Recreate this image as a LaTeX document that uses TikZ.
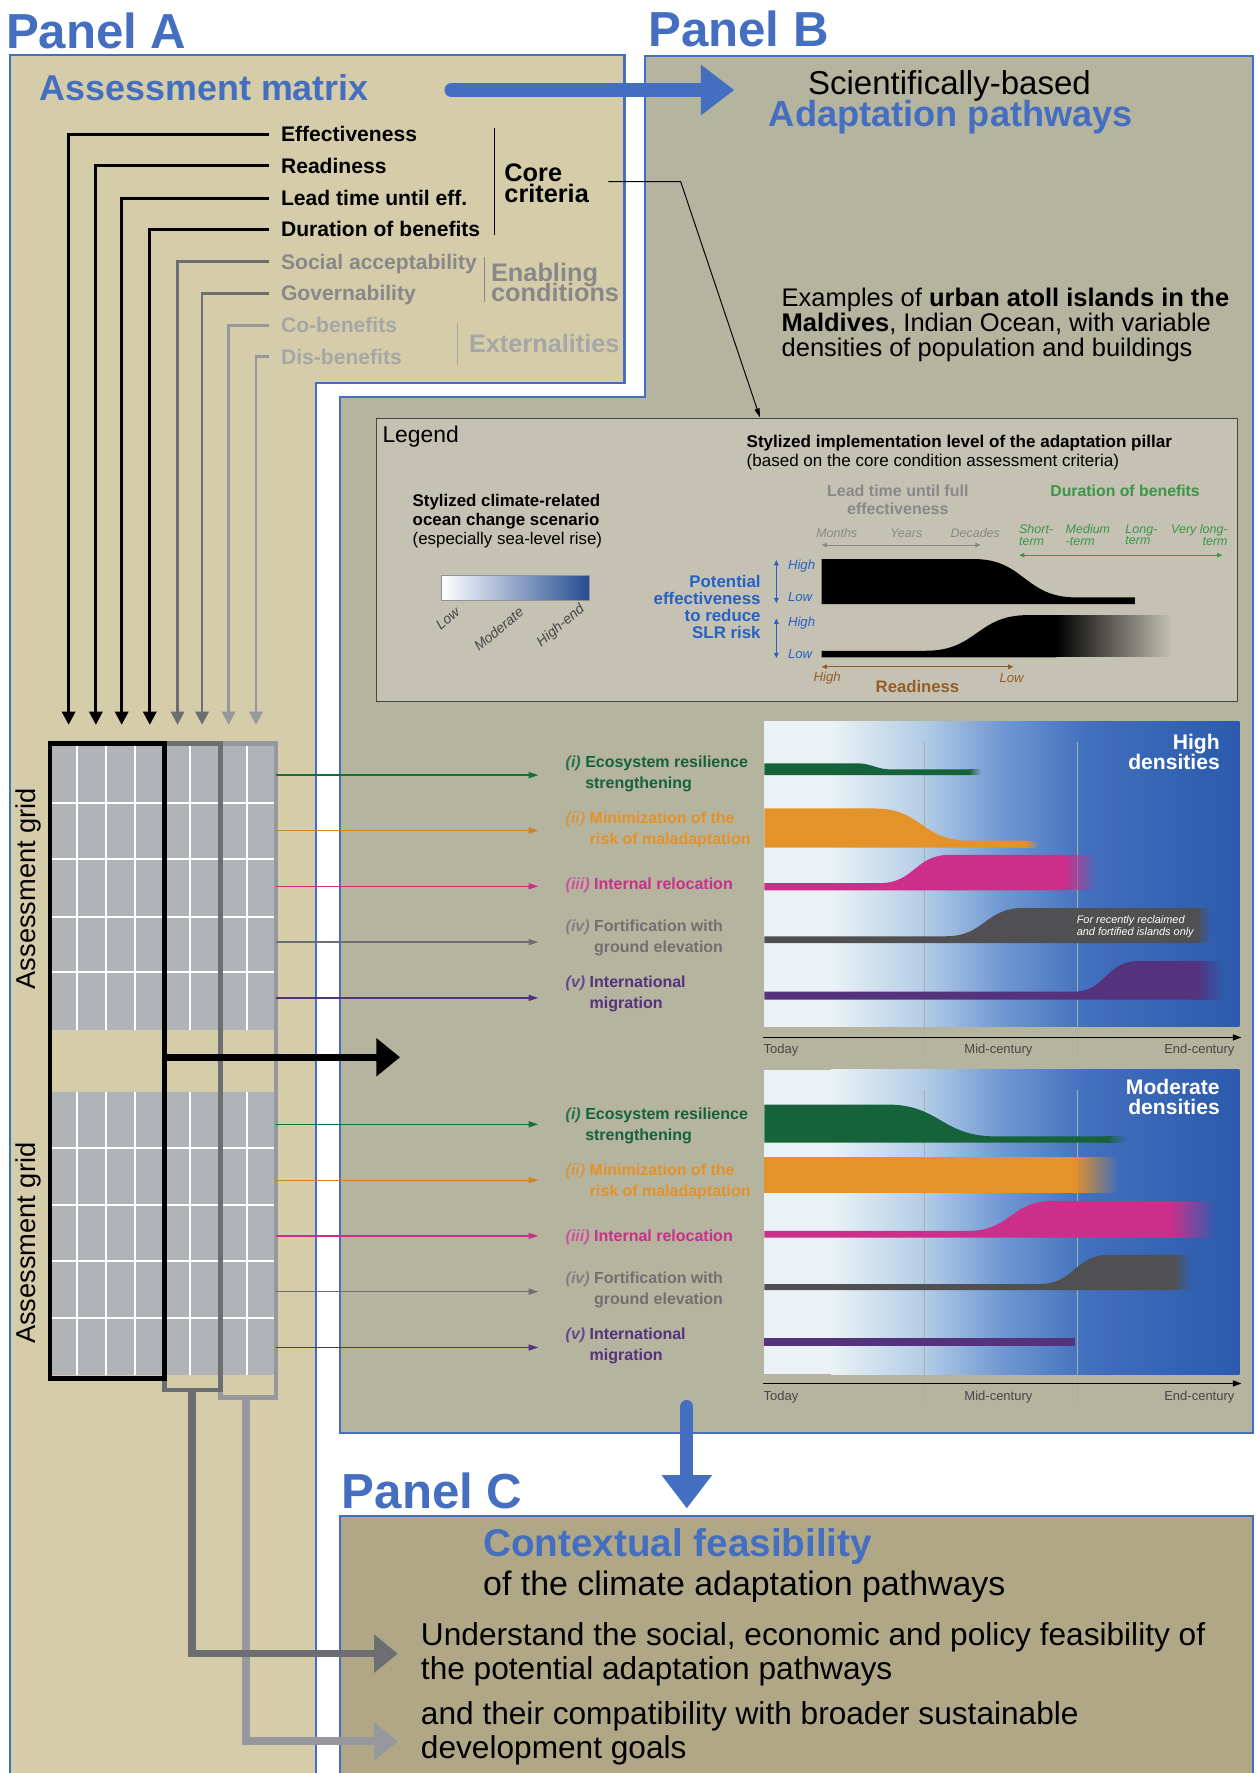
\documentclass[tikz,border=0pt]{standalone}
\usepackage{fontspec}
\setmainfont{Liberation Sans}
\usetikzlibrary{arrows.meta,fadings}
\setlength{\lineskiplimit}{-50pt}
\newcommand\fsz[2]{\fontsize{#1}{#2}\selectfont}
\tikzfading[name=fadetail,left color=transparent!0,right color=transparent!100]

\definecolor{panelblue}{RGB}{68,110,192}
\definecolor{beigeA}{RGB}{213,204,169}
\definecolor{greyB}{RGB}{181,180,159}
\definecolor{khakiC}{RGB}{176,167,135}
\definecolor{legendbg}{RGB}{197,194,180}
\definecolor{cellgrey}{RGB}{176,179,183}
\definecolor{midgrey}{RGB}{108,110,114}
\definecolor{lightgrey}{RGB}{150,152,158}
\definecolor{enabgrey}{RGB}{136,136,136}
\definecolor{extgrey}{RGB}{166,166,166}
\definecolor{ecogreen}{RGB}{22,98,58}
\definecolor{malorange}{RGB}{228,146,42}
\definecolor{malnum}{RGB}{214,150,70}
\definecolor{relmagenta}{RGB}{204,46,138}
\definecolor{relnum}{RGB}{208,80,155}
\definecolor{fortgrey}{RGB}{80,80,82}
\definecolor{fortgreytxt}{RGB}{112,112,112}
\definecolor{fortnum}{RGB}{128,128,128}
\definecolor{migpurple}{RGB}{84,50,124}
\definecolor{mignum}{RGB}{100,72,140}
\definecolor{econum}{RGB}{40,112,72}
\definecolor{leggreen}{RGB}{58,150,72}
\definecolor{legblue}{RGB}{38,98,196}
\definecolor{legbrown}{RGB}{150,92,40}
\definecolor{axisgrey}{RGB}{70,70,70}
\definecolor{sea0}{RGB}{234,242,245}
\definecolor{sea1}{RGB}{178,204,230}
\definecolor{sea2}{RGB}{112,152,210}
\definecolor{sea3}{RGB}{66,112,190}
\definecolor{sea4}{RGB}{44,90,172}

\begin{document}
\begin{tikzpicture}[x=0.02261cm,y=-0.02261cm,
  paneltitle/.style={anchor=base west,inner sep=0pt,text=panelblue,font=\fsz{28pt}{30pt}\bfseries},
  crit/.style={anchor=west,inner xsep=6.4pt,inner ysep=0pt,text height=8.7pt,text depth=0pt,font=\fsz{12pt}{14pt}\bfseries},
  critline/.style={line width=1.6pt,-{Triangle[length=7.5pt,width=7.5pt]}},
  bracket/.style={line width=0.6pt},
  group/.style={anchor=west,inner sep=0pt,align=left,font=\fsz{14.4pt}{11.7pt}\bfseries},
  flow/.style={line width=0.75pt,shorten >=15.4pt,-{Triangle[length=5.5pt,width=3.4pt]}},
  bigflow/.style={line width=4.4pt,-{Triangle[length=13.5pt,width=21pt]}},
  bluearrow/.style={panelblue,line width=7.6pt,line cap=round,-{Triangle[length=19pt,width=27.5pt]}},
  plabel/.style={anchor=west,inner sep=0pt,align=left,font=\fsz{9.1pt}{11.9pt}\bfseries},
  legtxt/.style={inner sep=0pt,font=\fsz{9.6pt}{11pt}},
  smalltxt/.style={inner sep=0pt,font=\fsz{7.1pt}{6.4pt}\itshape},
  scenlbl/.style={inner sep=0pt,rotate=40,text=axisgrey,font=\fsz{8pt}{9pt}\itshape},
  twoway/.style={line width=0.6pt,{Triangle[length=3pt,width=2.6pt]}-{Triangle[length=3pt,width=2.6pt]}},
  axislbl/.style={inner sep=0pt,text=axisgrey,font=\fsz{7.4pt}{9pt}},
  timeaxis/.style={line width=0.9pt,-{Triangle[length=5pt,width=3.4pt]}},
  century/.style={axisgrey!45,line width=0.35pt},
  densit/.style={anchor=east,inner sep=0pt,align=right,text=white,font=\fsz{12pt}{11.4pt}\bfseries},
  bodytxt/.style={anchor=west,inner sep=0pt,align=left,font=\fsz{18pt}{19.6pt}}
]
\useasboundingbox (0,0) rectangle (1110,1568);
\fill[white] (0,0) rectangle (1110,1568);

% panels
\filldraw[fill=beigeA,draw=panelblue,line width=1.3pt] (8.7,48.6) -- (552.4,48.6) -- (552.4,339) -- (279.6,339) -- (279.6,1580) -- (8.7,1580) -- cycle;
\filldraw[fill=greyB,draw=panelblue,line width=1.3pt] (570.5,49.5) -- (1108,49.5) -- (1108,1267) -- (301,1267) -- (301,351) -- (570.5,351) -- cycle;
\filldraw[fill=khakiC,draw=panelblue,line width=1.3pt] (301,1341) -- (1108,1341) -- (1108,1580) -- (301,1580) -- cycle;

\node[paneltitle] (pnA) at (5,42.8) {Panel A};
\node[paneltitle] (pnB) at (573,41.3) {Panel B};
\node[paneltitle] (pnC) at (302,1334) {Panel C};

% Panel A : assessment matrix
\node[anchor=base west,inner sep=0pt,text=panelblue,font=\fsz{20.4pt}{22pt}\bfseries] (mtx) at (35,88.5) {Assessment matrix};

\node[crit] (eff)  at (238.3,118.8) {Effectiveness};
\node[crit] (rdy)  at (238.3,146.5) {Readiness};
\node[crit] (lead) at (238.3,175.4) {Lead time until eff.};
\node[crit] (dur)  at (238.3,202.8) {Duration of benefits};
\node[crit,text=enabgrey] (soc) at (238.3,231.4) {Social acceptability};
\node[crit,text=enabgrey] (gov) at (238.3,259.4) {Governability};
\node[crit,text=extgrey]  (cob) at (238.3,287.5) {Co-benefits};
\node[crit,text=extgrey]  (dis) at (238.3,315.5) {Dis-benefits};

\draw[bracket] (437.6,113.5) -- (437.6,207.9);
\draw[bracket,enabgrey] (428.5,227) -- (428.5,266.8);
\draw[bracket,extgrey] (405,286) -- (405,322.8);
\node[group] (core) at (445.8,162) {Core\\criteria};
\node[group,text=enabgrey] (enab) at (434,249.6) {Enabling\\conditions};
\node[group,text=extgrey] (ext) at (414.5,303.7) {Externalities};

\coordinate (c1) at (60.7,641);
\coordinate (c2) at (84.8,641);
\coordinate (c3) at (107.6,641);
\coordinate (c4) at (132.5,641);
\coordinate (c5) at (157,641);
\coordinate (c6) at (178.7,641);
\coordinate (c7) at (202.2,641);
\coordinate (c8) at (226.4,641);
\draw[critline] (eff.west) -| (c1);
\draw[critline] (rdy.west) -| (c2);
\draw[critline] (lead.west) -| (c3);
\draw[critline] (dur.west) -| (c4);
\draw[critline,midgrey] (soc.west) -| (c5);
\draw[critline,midgrey] (gov.west) -| (c6);
\draw[critline,lightgrey] (cob.west) -| (c7);
\draw[critline,lightgrey] (dis.west) -| (c8);

% assessment grids
\fill[cellgrey] (44,658) rectangle (244,910.6);
\fill[cellgrey] (44,966) rectangle (244,1216);
\draw[white,line width=1.1pt] (68.5,658) -- (68.5,910.6) (93.5,658) -- (93.5,910.6) (119,658) -- (119,910.6)
  (168.4,658) -- (168.4,910.6) (218.6,658) -- (218.6,910.6)
  (44,710) -- (244,710) (44,759.3) -- (244,759.3) (44,810.6) -- (244,810.6) (44,860) -- (244,860);
\draw[white,line width=1.1pt] (68.5,966) -- (68.5,1216) (93.5,966) -- (93.5,1216) (119,966) -- (119,1216)
  (168.4,966) -- (168.4,1216) (218.6,966) -- (218.6,1216)
  (44,1015.2) -- (244,1015.2) (44,1065.4) -- (244,1065.4) (44,1115.5) -- (244,1115.5) (44,1166) -- (244,1166);
\draw[lightgrey,line width=2.6pt] (194.9,657.5) rectangle (243.9,1236);
\draw[midgrey,line width=2.6pt] (145.3,657.5) rectangle (194.9,1229.2);
\draw[black,line width=2.8pt] (44.2,657.5) rectangle (145.3,1219.3);
\node[rotate=90,inner sep=0pt,font=\fsz{15.5pt}{17pt}] (ag1) at (25.3,785.8) {Assessment grid};
\node[rotate=90,inner sep=0pt,font=\fsz{15.5pt}{17pt}] (ag2) at (25.3,1099.5) {Assessment grid};

% Panel B : titles
\coordinate (ba0) at (399,79.6);
\coordinate (ba1) at (649.4,79.6);
\draw[bluearrow] (ba0) -- (ba1);
\node[inner sep=0pt,font=\fsz{18.8pt}{20pt}] (sci) at (839.7,76) {Scientifically-based};
\node[inner sep=0pt,text=panelblue,font=\fsz{20.6pt}{22pt}\bfseries] (apw) at (841,104) {Adaptation pathways};
\node[anchor=west,inner sep=0pt,align=left,font=\fsz{14.5pt}{14.24pt}] (maldv) at (691,287.5)
  {Examples of \textbf{urban atoll islands in the}\\\textbf{Maldives}, Indian Ocean, with variable\\densities of population and buildings};

\coordinate (cc0) at (538,160.7);
\coordinate (cc1) at (602,160.7);
\coordinate (cc2) at (672,369);
\draw[line width=0.55pt,-{Triangle[length=5pt,width=3pt]}] (cc0) -- (cc1) -- (cc2);

% legend
\filldraw[fill=legendbg,draw=axisgrey,line width=0.8pt] (333,370) rectangle (1094.5,620.6);
\node[anchor=west,inner sep=0pt,font=\fsz{13pt}{14pt}] (lgd) at (338,386) {Legend};
\node[legtxt,anchor=west,align=left] (scen) at (364.7,461)
  {\textbf{Stylized climate-related}\\\textbf{ocean change scenario}\\(especially sea-level rise)};
\shade[left color=white,middle color=sea2,right color=sea4!85!black] (390.7,508.6) rectangle (521,530.7);
\draw[axisgrey!60,line width=0.4pt] (390.7,508.6) rectangle (521,530.7);
\node[scenlbl] (slow) at (396,547) {Low};
\node[scenlbl] (smod) at (441,556) {Moderate};
\node[scenlbl] (shigh) at (496,553.5) {High-end};

\node[legtxt,anchor=west,align=left,font=\fsz{9.7pt}{11.25pt}] (impl) at (660,400.2)
  {\textbf{Stylized implementation level of the adaptation pillar}\\(based on the core condition assessment criteria)};
\node[inner sep=0pt,align=center,text=enabgrey,font=\fsz{9.1pt}{10pt}\bfseries] (leadt) at (794,441.8) {Lead time until full\\effectiveness};
\node[inner sep=0pt,text=leggreen,font=\fsz{9pt}{10pt}\bfseries] (durb) at (995,434) {Duration of benefits};
\node[smalltxt,text=enabgrey] (mon) at (740,471.7) {Months};
\node[smalltxt,text=enabgrey] (yrs) at (801.5,471.7) {Years};
\node[smalltxt,text=enabgrey] (dec) at (862.5,471.7) {Decades};
\coordinate (lt0) at (726.6,482);
\coordinate (lt1) at (867.3,482);
\draw[twoway,enabgrey] (lt0) -- (lt1);
\node[smalltxt,anchor=west,align=left,text=leggreen] (sht) at (901,473.2) {Short-\\term};
\node[smalltxt,anchor=west,align=left,text=leggreen] (med) at (942.2,473.2) {Medium\\-term};
\node[smalltxt,anchor=west,align=left,text=leggreen] (lng) at (995,473.2) {Long-\\term};
\node[smalltxt,anchor=east,align=right,text=leggreen] (vln) at (1086,473.2) {Very long-\\term};
\coordinate (db0) at (901.3,491);
\coordinate (db1) at (1081,491);
\draw[twoway,leggreen] (db0) -- (db1);

\node[anchor=east,inner sep=0pt,align=right,text=legblue,font=\fsz{9.6pt}{9.7pt}\bfseries] (pot) at (673,537)
  {Potential\\effectiveness\\to reduce\\SLR risk};
\coordinate (pe0) at (686.6,495.3);
\coordinate (pe1) at (686.6,533.4);
\coordinate (pe2) at (686.6,547);
\coordinate (pe3) at (686.6,582);
\draw[twoway,legblue] (pe0) -- (pe1);
\draw[twoway,legblue] (pe2) -- (pe3);
\node[smalltxt,anchor=west,text=legblue,font=\fsz{7.5pt}{8pt}\itshape] (ph1) at (696.6,500.3) {High};
\node[smalltxt,anchor=west,text=legblue,font=\fsz{7.5pt}{8pt}\itshape] (pl1) at (696.6,528.3) {Low};
\node[smalltxt,anchor=west,text=legblue,font=\fsz{7.5pt}{8pt}\itshape] (ph2) at (696.6,550.7) {High};
\node[smalltxt,anchor=west,text=legblue,font=\fsz{7.5pt}{8pt}\itshape] (pl2) at (696.6,578.7) {Low};

\fill[black] (726.6,534.2) -- (726.6,494.4) -- (861.3,494.4) .. controls (906,494.4) and (906,528.3) .. (951.2,528.3) -- (1003.6,528.3) -- (1003.6,534.2) -- cycle;
\fill[black] (726.6,581.4) -- (726.6,575.5) -- (819,575.5) .. controls (864,575.5) and (864,544) .. (908.8,544) -- (934,544) -- (934,581.4) -- cycle;
\fill[black,path fading=fadetail] (933.5,544) rectangle (1036,581.4);

\coordinate (rd0) at (726.6,589.7);
\coordinate (rd1) at (896.3,589.7);
\draw[twoway,legbrown] (rd0) -- (rd1);
\node[smalltxt,text=legbrown,font=\fsz{7.5pt}{8pt}\itshape] (rh) at (731.5,600) {High};
\node[smalltxt,text=legbrown,font=\fsz{7.5pt}{8pt}\itshape] (rl) at (894.7,600) {Low};
\node[inner sep=0pt,text=legbrown,font=\fsz{9.5pt}{10pt}\bfseries] (rdn) at (811.4,607.4) {Readiness};

% high densities chart
\fill[sea0] (675.5,638) rectangle (735.5,908);
\shade[left color=sea0,right color=sea1] (735,638) rectangle (818.5,908);
\shade[left color=sea1,right color=sea2] (818,638) rectangle (885.5,908);
\shade[left color=sea2,right color=sea3] (885,638) rectangle (960.5,908);
\shade[left color=sea3,right color=sea4] (960,638) rectangle (1096,908);
\draw[century] (817.6,656) -- (817.6,935) (952.6,656) -- (952.6,935);
\coordinate (ax0) at (675,917.5);
\coordinate (ax1) at (1098,917.5);
\draw[timeaxis] (ax0) -- (ax1);
\node[axislbl,anchor=west] (td1) at (675,929) {Today};
\node[axislbl] (mc1) at (883,929) {Mid-century};
\node[axislbl,anchor=east] (ec1) at (1092,929) {End-century};
\node[densit] (hd) at (1079,665) {High\\densities};

\fill[ecogreen] (676,685.5) -- (676,675) -- (756,675) .. controls (773,675) and (773,680.5) .. (790,680.5) -- (857.5,680.5) -- (857.5,685.5) -- cycle;
\fill[ecogreen,path fading=fadetail] (857,680.5) rectangle (868,685.5);
\fill[malorange] (676,749.5) -- (676,715) -- (774,715) .. controls (815,715) and (815,743.5) .. (857,743.5) -- (907.5,743.5) -- (907.5,749.5) -- cycle;
\fill[malorange,path fading=fadetail] (907,743.5) rectangle (918,749.5);
\fill[relmagenta] (676,787.5) -- (676,781) -- (778,781) .. controls (809,781) and (809,756) .. (840,756) -- (941.5,756) -- (941.5,787.5) -- cycle;
\fill[relmagenta,path fading=fadetail] (941,756) rectangle (970,787.5);
\fill[fortgrey] (676,834) -- (676,828) -- (836.5,828) .. controls (871,828) and (871,803) .. (905,803) -- (1058.5,803) -- (1058.5,834) -- cycle;
\fill[fortgrey,path fading=fadetail] (1058,803) rectangle (1071,834);
\node[anchor=west,inner sep=0pt,align=left,text=white,font=\fsz{6.2pt}{7pt}\itshape] (recl) at (952,819.5)
  {For recently reclaimed\\and fortified islands only};
\fill[migpurple] (676,884) -- (676,877) -- (949.5,877) .. controls (978,877) and (978,850) .. (1006,850) -- (1058.5,850) -- (1058.5,884) -- cycle;
\fill[migpurple,path fading=fadetail] (1058,850) rectangle (1082,884);

% moderate densities chart
\fill[sea0] (675.5,946) rectangle (735.5,1215.3);
\shade[left color=sea0,right color=sea1] (735,946) rectangle (818.5,1215.3);
\shade[left color=sea1,right color=sea2] (818,946) rectangle (885.5,1215.3);
\shade[left color=sea2,right color=sea3] (885,946) rectangle (960.5,1215.3);
\shade[left color=sea3,right color=sea4] (960,946) rectangle (1096,1215.3);
\draw[century] (817.6,964) -- (817.6,1242) (952.6,964) -- (952.6,1242);
\coordinate (ax2) at (675,1223.5);
\coordinate (ax3) at (1098,1223.5);
\draw[timeaxis] (ax2) -- (ax3);
\node[axislbl,anchor=west] (td2) at (675,1235.3) {Today};
\node[axislbl] (mc2) at (883,1235.3) {Mid-century};
\node[axislbl,anchor=east] (ec2) at (1092,1235.3) {End-century};
\node[densit] (md) at (1079,970) {Moderate\\densities};

\fill[ecogreen] (676,1010.4) -- (676,976.8) -- (784,976.8) .. controls (832,976.8) and (832,1005) .. (881,1005) -- (978,1005) -- (978,1010.4) -- cycle;
\fill[ecogreen,path fading=fadetail] (977.5,1005) rectangle (997,1010.4);
\fill[malorange] (676,1055) rectangle (950,1023);
\fill[malorange,path fading=fadetail] (949.5,1023) rectangle (989,1055);
\fill[relmagenta] (676,1094.4) -- (676,1088.5) -- (856.7,1088.5) .. controls (894,1088.5) and (894,1062) .. (931.5,1062) -- (1034.5,1062) -- (1034.5,1094.4) -- cycle;
\fill[relmagenta,path fading=fadetail] (1034,1062) rectangle (1075,1094.4);
\fill[fortgrey] (676,1141) -- (676,1135.6) -- (919,1135.6) .. controls (950,1135.6) and (950,1109.7) .. (982,1109.7) -- (1038.5,1109.7) -- (1038.5,1141) -- cycle;
\fill[fortgrey,path fading=fadetail] (1038,1109.7) rectangle (1053,1141);
\fill[migpurple] (676,1190) rectangle (950.3,1183.7);

% pathway labels
\node[plabel,text=ecogreen] (hi1) at (500,684.2) {{\itshape\color{econum}(i)} Ecosystem resilience\\\hphantom{{\itshape(i)} }strengthening};
\node[plabel,text=malorange] (hi2) at (500,734) {{\itshape\color{malnum}(ii)} Minimization of the\\\hphantom{{\itshape(ii)} }risk of maladaptation};
\node[plabel,text=relmagenta] (hi3) at (500,783) {{\itshape\color{relnum}(iii)} Internal relocation};
\node[plabel,text=fortgreytxt] (hi4) at (500,829.7) {{\itshape\color{fortnum}(iv)} Fortification with\\\hphantom{{\itshape(iv)} }ground elevation};
\node[plabel,text=migpurple] (hi5) at (500,878.7) {{\itshape\color{mignum}(v)} International\\\hphantom{{\itshape(v)} }migration};
\node[plabel,text=ecogreen] (mo1) at (500,995.4) {{\itshape\color{econum}(i)} Ecosystem resilience\\\hphantom{{\itshape(i)} }strengthening};
\node[plabel,text=malorange] (mo2) at (500,1045.5) {{\itshape\color{malnum}(ii)} Minimization of the\\\hphantom{{\itshape(ii)} }risk of maladaptation};
\node[plabel,text=relmagenta] (mo3) at (500,1094.4) {{\itshape\color{relnum}(iii)} Internal relocation};
\node[plabel,text=fortgreytxt] (mo4) at (500,1140.7) {{\itshape\color{fortnum}(iv)} Fortification with\\\hphantom{{\itshape(iv)} }ground elevation};
\node[plabel,text=migpurple] (mo5) at (500,1190.2) {{\itshape\color{mignum}(v)} International\\\hphantom{{\itshape(v)} }migration};

% grid rows to pathways
\coordinate (g1) at (244,685.5);
\coordinate (g2) at (244,734.5);
\coordinate (g3) at (244,783.8);
\coordinate (g4) at (244,833.2);
\coordinate (g5) at (244,882.5);
\coordinate (g6) at (244,994.3);
\coordinate (g7) at (244,1043.7);
\coordinate (g8) at (244,1093);
\coordinate (g9) at (244,1142.3);
\coordinate (g10) at (244,1191.7);
\draw[flow,ecogreen!90!green] (g1) -- (g1 -| hi1.west);
\draw[flow,malorange!90!black] (g2) -- (g2 -| hi2.west);
\draw[flow,relmagenta] (g3) -- (g3 -| hi3.west);
\draw[flow,midgrey] (g4) -- (g4 -| hi4.west);
\draw[flow,migpurple] (g5) -- (g5 -| hi5.west);
\draw[flow,ecogreen!90!green] (g6) -- (g6 -| mo1.west);
\draw[flow,malorange!90!black] (g7) -- (g7 -| mo2.west);
\draw[flow,relmagenta] (g8) -- (g8 -| mo3.west);
\draw[flow,midgrey] (g9) -- (g9 -| mo4.west);
\draw[flow,migpurple] (g10) -- (g10 -| mo5.west);

\coordinate (bk0) at (145.3,935);
\coordinate (bk1) at (353.8,935);
\draw[bigflow,black,line width=4pt] (bk0) -- (bk1);

% Panel C
\coordinate (bv0) at (607.4,1244);
\coordinate (bv1) at (607.4,1334);
\draw[bluearrow] (bv0) -- (bv1);
\node[anchor=west,inner sep=0pt,text=panelblue,font=\fsz{22pt}{24pt}\bfseries] (ctx) at (427,1368) {Contextual feasibility};
\node[anchor=west,inner sep=0pt,font=\fsz{19.3pt}{21pt}] (ofcl) at (427,1403) {of the climate adaptation pathways};
\node[bodytxt] (und) at (372,1463) {Understand the social, economic and policy feasibility of\\the potential adaptation pathways};
\node[bodytxt,font=\fsz{18pt}{19pt}] (cmp) at (372,1533) {and their compatibility with broader sustainable\\development goals};

\coordinate (lgb) at (217.3,1236);
\coordinate (ub) at (351.8,1540);
\coordinate (dkb) at (169.9,1229.2);
\coordinate (ua) at (351.8,1462.4);
\draw[bigflow,lightgrey] (lgb) |- (ub);
\draw[bigflow,midgrey] (dkb) |- (ua);
\end{tikzpicture}
\end{document}
